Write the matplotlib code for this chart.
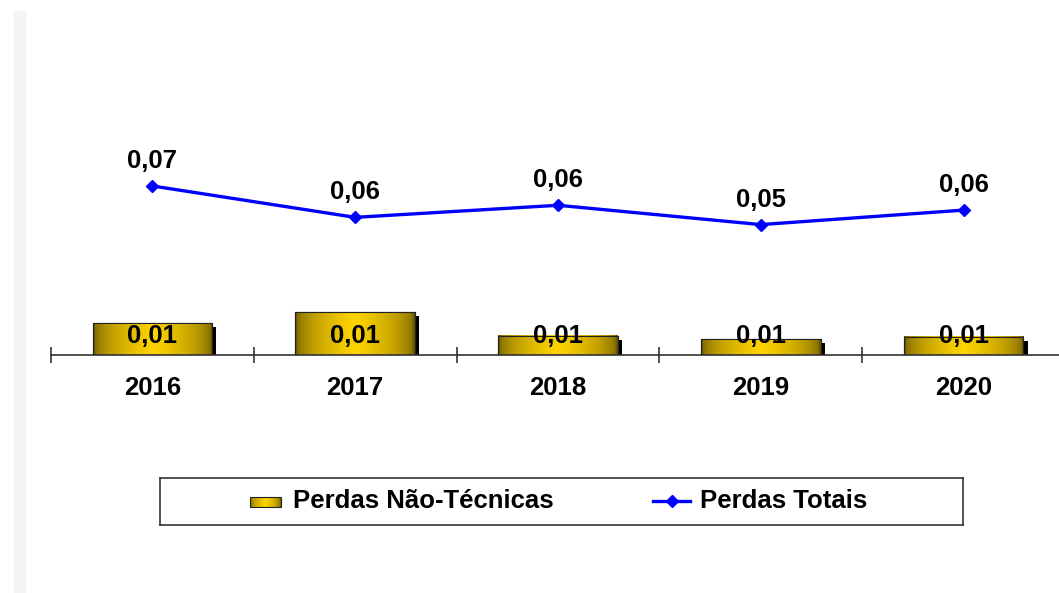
import numpy as np
import matplotlib
matplotlib.use("Agg")
import matplotlib.pyplot as plt
from matplotlib.patches import Rectangle
import matplotlib.patheffects as pe

anos = ["2016", "2017", "2018", "2019", "2020"]
nao_tecnicas = [0.0104, 0.0140, 0.0062, 0.0052, 0.0059]
totais = [0.070, 0.057, 0.062, 0.054, 0.060]

plt.rcParams['font.family'] = ['Liberation Sans', 'DejaVu Sans']
plt.rcParams['font.weight'] = 'bold'

W, H = 1059, 593
FS = 18.5
AZUL = '#0000ff'
EIXO = '#333333'


def gold(n=64):
    t = np.linspace(0, 1, n)
    w = np.clip(1 - np.abs(t - 0.5) * 2, 0, 1) ** 0.45
    dark = np.array([0.40, 0.33, 0.0])
    bright = np.array([1.0, 0.83, 0.0])
    return (dark + (bright - dark) * w[:, None])[None, :, :]


fig = plt.figure(figsize=(W / 100, H / 100), dpi=100)
fig.patches.append(Rectangle((14 / W, 0), 11 / W, (H - 11) / H,
                             transform=fig.transFigure, color='#f4f4f4', zorder=0))

ax = fig.add_axes([51 / W, 238 / H, 1014 / W, 241 / H])
ax.patch.set_alpha(0)
x = np.arange(len(anos))

# bars (own scale)
bars = ax.bar(x, nao_tecnicas, width=0.59, color='k', edgecolor='#222222',
              linewidth=0.8, zorder=2)
for b in bars:
    b.set_path_effects([pe.SimplePatchShadow(offset=(3, -3), shadow_rgbFace='k', alpha=1),
                        pe.Normal()])
    x0, y0, bw, bh = b.get_x(), b.get_y(), b.get_width(), b.get_height()
    ax.imshow(gold(), extent=[x0, x0 + bw, y0, y0 + bh], aspect='auto', zorder=2.5)
    ax.add_patch(Rectangle((x0, y0), bw, bh, fill=False, edgecolor='#222222',
                           linewidth=0.8, zorder=2.6))
for i, v in enumerate(nao_tecnicas):
    ax.annotate(f"{v:.2f}".replace('.', ','), xy=(i, 0), xytext=(0, 13.5),
                textcoords='offset points', ha='center', va='center',
                fontsize=FS, fontweight='bold', zorder=5)

ax.set_xlim(-0.5, len(anos) - 0.5)
ax.set_ylim(0, 0.0785)
ax.set_yticks([])
for s in ['top', 'left', 'right']:
    ax.spines[s].set_visible(False)
ax.spines['bottom'].set_color(EIXO)
ax.spines['bottom'].set_linewidth(1.2)
ax.set_xticks(x)
ax.set_xticklabels(anos, fontsize=FS, fontweight='bold')
ax.set_xticks(np.arange(-0.5, len(anos), 1), minor=True)
ax.tick_params(axis='x', which='major', length=0, pad=15)
ax.tick_params(axis='x', which='minor', direction='inout', length=12,
               width=1.2, color=EIXO)

# line (own scale)
ax2 = ax.twinx()
ax2.plot(x, totais, color=AZUL, lw=2.4, marker='D', markersize=6, zorder=4)
for i, v in enumerate(totais):
    ax2.annotate(f"{v:.2f}".replace('.', ','), xy=(i, v), xytext=(0, 18),
                 textcoords='offset points', ha='center', va='center',
                 fontsize=FS, fontweight='bold')
ax2.set_ylim(0, 0.0998)
ax2.set_yticks([])
for s in ax2.spines.values():
    s.set_visible(False)

# legend
lax = fig.add_axes([160 / W, (H - 525) / H, 803 / W, 47 / H])
lax.set_xticks([])
lax.set_yticks([])
for s in lax.spines.values():
    s.set_color(EIXO)
    s.set_linewidth(1.2)
lax.imshow(gold(), extent=[90, 121, 18, 28], aspect='auto', zorder=2)
lax.add_patch(Rectangle((90, 18), 31, 10, fill=False, edgecolor='#222222', lw=0.8, zorder=3))
lax.text(133, 24, "Perdas Não-Técnicas", fontsize=FS, fontweight='bold', va='center')
lax.plot([493, 530], [24, 24], color=AZUL, lw=2.4)
lax.plot([512], [24], color=AZUL, marker='D', markersize=6)
lax.text(540, 24, "Perdas Totais", fontsize=FS, fontweight='bold', va='center')
lax.set_xlim(0, 803)
lax.set_ylim(0, 47)

fig.savefig("out.png", dpi=100)
